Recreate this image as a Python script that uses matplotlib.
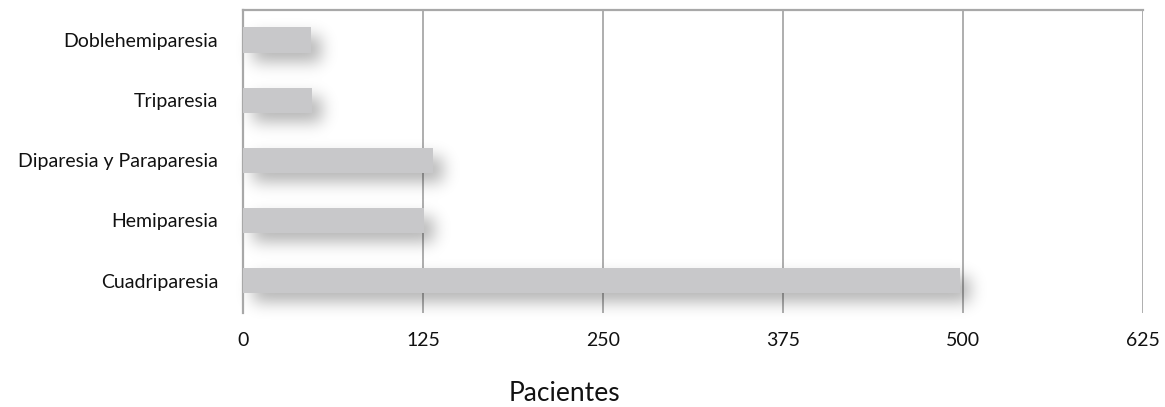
import matplotlib
matplotlib.use("Agg")
import numpy as np
import matplotlib.pyplot as plt

categories = ["Cuadriparesia", "Hemiparesia", "Diparesia y Paraparesia",
              "Triparesia", "Doblehemiparesia"]
values = [498, 126, 132, 48, 47]
xticks = [0, 125, 250, 375, 500, 625]

plt.rcParams["font.family"] = ["Lato", "DejaVu Sans"]

W, H = 1165, 407
fig = plt.figure(figsize=(W / 100, H / 100), dpi=100)
ax = fig.add_axes([243 / W, 1 - 313 / H, 900 / W, 303 / H])

ypos = list(range(len(categories)))
bars = ax.barh(ypos, values, height=0.42, color="#c8c8ca", zorder=3)

ax.set_xlim(0, 625)
ax.set_ylim(-0.54, 4.5)
ax.set_xticks(xticks)
ax.set_xticklabels([str(t) for t in xticks])
ax.set_yticks(ypos)
ax.set_yticklabels(categories)
ax.tick_params(length=0, labelsize=14, colors="#111111")
ax.tick_params(axis="x", pad=14)
ax.tick_params(axis="y", pad=18)
ax.xaxis.grid(True, color="#a8a8a8", linewidth=1.3, zorder=0)

for side in ["right", "bottom"]:
    ax.spines[side].set_visible(False)
for side in ["left", "top"]:
    ax.spines[side].set_color("#a8a8a8")
    ax.spines[side].set_linewidth(1.6)

ax.set_xlabel("Pacientes", fontsize=19, color="#111111")
ax.xaxis.label.set_va("baseline")
ax.xaxis.set_label_coords(0.357, -0.29)

# blurred drop shadow under the bars, built in pixel space
fig.canvas.draw()
dx, dy, sigma = 10, 9, 8.0
mask = np.zeros((H, W))
for b in bars:
    (x0, y0), (x1, y1) = ax.transData.transform(
        [(b.get_x(), b.get_y()), (b.get_x() + b.get_width(), b.get_y() + b.get_height())])
    c0, c1 = int(round(x0 + dx)), int(round(x1 + dx))
    r0, r1 = int(round(H - y1 + dy)), int(round(H - y0 + dy))
    mask[r0:r1, c0:c1] = 1.0
t = np.arange(-int(3 * sigma), int(3 * sigma) + 1)
kern = np.exp(-t ** 2 / (2 * sigma ** 2))
kern /= kern.sum()
mask = np.apply_along_axis(lambda v: np.convolve(v, kern, mode="same"), 1, mask)
mask = np.apply_along_axis(lambda v: np.convolve(v, kern, mode="same"), 0, mask)
rgba = np.zeros((H, W, 4))
rgba[..., 3] = mask * 0.3
inv = ax.transData.inverted()
(dx0, dy0), (dx1, dy1) = inv.transform([(0, 0), (W, H)])
ax.imshow(rgba, extent=(dx0, dx1, dy0, dy1), origin="upper", aspect="auto",
          zorder=2, clip_on=False, interpolation="bilinear")
ax.set_xlim(0, 625)
ax.set_ylim(-0.54, 4.5)

fig.savefig("out.png", dpi=100)
